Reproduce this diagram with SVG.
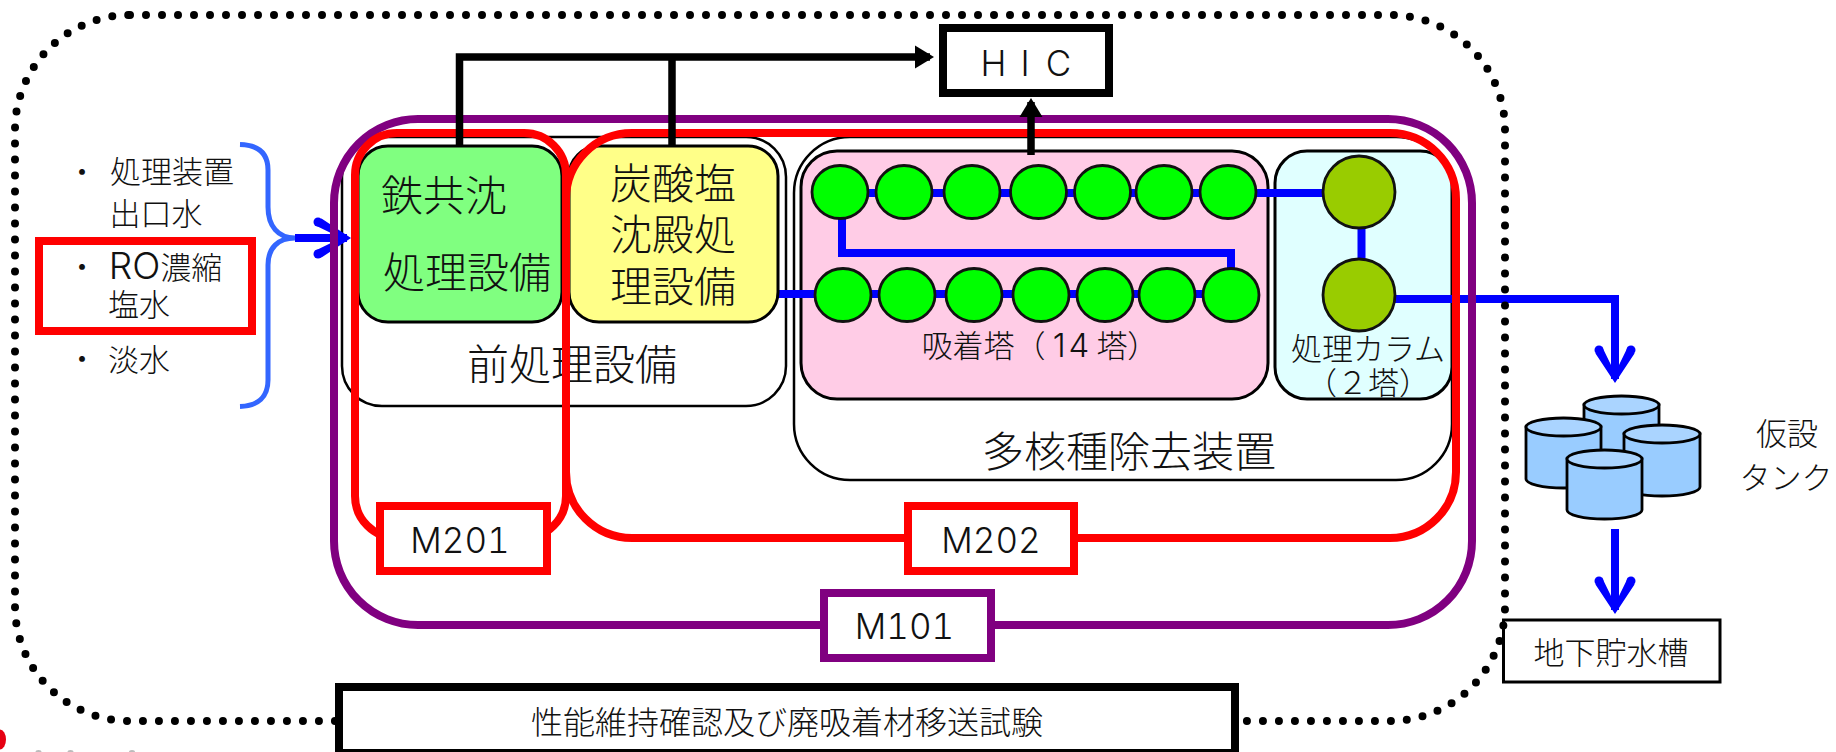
<svg xmlns="http://www.w3.org/2000/svg" width="1836" height="752" viewBox="0 0 1836 752" lang="ja">
<style>
text{font-family:"Noto Sans CJK JP","Noto Sans",sans-serif;fill:#111;text-anchor:middle;font-weight:300}
.f31{font-size:31px}.f41{font-size:42px}
.lat{font-family:Inter,"Liberation Sans",sans-serif;font-size:35px;font-weight:300;font-variant-numeric:tabular-nums}
.thin{fill:none;stroke:#000;stroke-width:2.5}
.box{stroke:#000;stroke-width:3}
.ring-r{fill:none;stroke:#f00;stroke-width:8}
.ring-p{fill:none;stroke:#800080;stroke-width:8}
.tag-r{fill:#fff;stroke:#f00;stroke-width:8}
.tag-p{fill:#fff;stroke:#800080;stroke-width:8}
.tag-k{fill:#fff;stroke:#000;stroke-width:8}
.b{fill:none;stroke:#00f;stroke-width:8}
.k{fill:none;stroke:#000;stroke-width:7.5}
.ads{fill:#0f0;stroke:#111;stroke-width:2.8}
.col{fill:#9c0;stroke:#111;stroke-width:2.8}
.tank{fill:#9cf;stroke:#000;stroke-width:2.8}
.tanktop{fill:#aad4ff;stroke:#000;stroke-width:2.8}
</style>
<defs>
<marker id="ba" markerUnits="userSpaceOnUse" markerWidth="44" markerHeight="48" viewBox="-40 -24 44 48" refX="-4" refY="0" orient="auto" overflow="visible">
<polygon points="0,0 -29.500,-19.500 -36.500,-13 -18,-4 -18,4 -36.500,13 -29.500,19.500" fill="#00f"/>
<circle cx="-33" cy="-16" r="4.500" fill="#00f"/><circle cx="-33" cy="16" r="4.500" fill="#00f"/>
</marker>
<marker id="ka" markerUnits="userSpaceOnUse" markerWidth="24" markerHeight="26" viewBox="-20 -13 24 26" refX="-4" refY="0" orient="auto" overflow="visible">
<polygon points="0,0 -19,-11.500 -19,11.500" fill="#000"/>
</marker>
</defs>

<g id="blob"><ellipse cx="0" cy="739.500" rx="6" ry="10" fill="#e60012"/><ellipse cx="38.500" cy="752" rx="3" ry="2" fill="#bbb"/><ellipse cx="70.500" cy="752" rx="3" ry="2" fill="#bbb"/><ellipse cx="132" cy="752" rx="3" ry="2" fill="#bbb"/></g>

<g id="n-brace"><path fill="none" stroke="#36f" stroke-width="5" d="M240 144.500C258 145 268 153 268 170V207C268 226 278 238 295 238C278 238 268 248 268 265V380C268 397 258 406 240 406.500"/></g>

<g id="n-pretreat"><rect class="thin" x="342" y="137" width="444" height="269" rx="40" style="fill:#fff"/><text class="f41" x="572" y="380">前処理設備</text></g>
<g id="n-alps"><rect class="thin" x="794" y="137" width="658" height="343" rx="56" style="fill:#fff"/><text class="f41" x="1129" y="467">多核種除去装置</text></g>
<g id="n-adsorber"><rect class="box" x="801" y="151" width="467" height="248" rx="36" fill="#ffcce6"/></g>
<g id="n-column"><rect class="box" x="1275" y="151" width="177" height="248" rx="32" fill="#e0ffff"/></g>

<g id="connectors-process">
<path class="b" d="M295 238H347" marker-end="url(#ba)"/>
<path class="b" d="M1395 299H1615V379" marker-end="url(#ba)"/>
<path class="b" d="M1615 529V610" marker-end="url(#ba)"/>
<path class="b" d="M778 294H1231"/>
<path class="b" d="M840 193H1359"/>
<path class="b" d="M842 192V253H1231V295"/>
<path class="b" d="M1361.500 192V295"/>
</g>

<g id="n-iron"><rect class="box" x="358" y="146" width="204" height="176" rx="30" fill="#80ff80"/><text class="f41" x="444" y="211">鉄共沈</text><text class="f41" x="467" y="288">処理設備</text></g>
<g id="n-carbonate"><rect class="box" x="569" y="146" width="209" height="176" rx="30" fill="#ff8"/><text class="f41" x="673" y="199">炭酸塩</text><text class="f41" x="673" y="250">沈殿処</text><text class="f41" x="673" y="302">理設備</text></g>

<g id="n-towers">
<ellipse class="ads" cx="840" cy="192" rx="28" ry="26.500"/><ellipse class="ads" cx="904" cy="192" rx="28" ry="26.500"/><ellipse class="ads" cx="972" cy="192" rx="28" ry="26.500"/><ellipse class="ads" cx="1038.500" cy="192" rx="28" ry="26.500"/><ellipse class="ads" cx="1102.500" cy="192" rx="28" ry="26.500"/><ellipse class="ads" cx="1164" cy="192" rx="28" ry="26.500"/><ellipse class="ads" cx="1228" cy="192" rx="28" ry="26.500"/>
<ellipse class="ads" cx="843" cy="295" rx="28" ry="26.500"/><ellipse class="ads" cx="907" cy="295" rx="28" ry="26.500"/><ellipse class="ads" cx="974" cy="295" rx="28" ry="26.500"/><ellipse class="ads" cx="1041" cy="295" rx="28" ry="26.500"/><ellipse class="ads" cx="1105" cy="295" rx="28" ry="26.500"/><ellipse class="ads" cx="1167" cy="295" rx="28" ry="26.500"/><ellipse class="ads" cx="1231" cy="295" rx="28" ry="26.500"/>
<text class="f31" x="1040" y="357">吸着塔（<tspan dx="7" letter-spacing="3" font-size="33" font-family="Inter,'Liberation Sans',sans-serif">14</tspan><tspan dx="4">塔）</tspan></text>
</g>
<g id="n-columns">
<ellipse class="col" cx="1359" cy="192" rx="36" ry="36"/><ellipse class="col" cx="1359" cy="295" rx="36" ry="36"/>
<text class="f31" x="1368" y="360">処理カラム</text><text class="f31" x="1368" y="394">（２塔）</text>
</g>

<g id="n-m101-ring"><rect class="ring-p" x="334" y="119" width="1138" height="506" rx="84"/></g>
<g id="n-m201-ring"><rect class="ring-r" x="355" y="133" width="211" height="405" rx="42"/></g>
<g id="n-m202-ring"><rect class="ring-r" x="566" y="133" width="890" height="405" rx="66"/></g>

<g id="connectors-hic">
<path class="k" d="M459.500 146V57H930" marker-end="url(#ka)"/>
<path class="k" d="M672 146V57"/>
<path class="k" d="M1031 155V102" marker-end="url(#ka)"/>
</g>

<g id="n-hic"><rect class="tag-k" x="943" y="28" width="166" height="65"/><text class="lat" x="993.500 1025 1058.500" y="76">HIC</text></g>
<g id="n-m201"><rect class="tag-r" x="380" y="506" width="167" height="65"/><text class="lat" x="460" y="553">M201</text></g>
<g id="n-m202"><rect class="tag-r" x="908" y="506" width="166" height="65"/><text class="lat" x="991" y="553">M202</text></g>
<g id="n-m101"><rect class="tag-p" x="824" y="593" width="167" height="65"/><text class="lat" x="904.500" y="639">M101</text></g>

<g id="n-inflow">
<rect class="tag-r" x="39" y="241" width="213" height="90"/>
<text class="f31" x="82" y="183">・</text>
<text class="f31" x="172" y="183">処理装置</text>
<text class="f31" x="156" y="225">出口水</text>
<text class="f31" x="82" y="278">・</text>
<text class="f31" x="165.500" y="279"><tspan font-size="37" font-family="Inter,'Liberation Sans',sans-serif">RO</tspan>濃縮</text>
<text class="f31" x="139" y="316">塩水</text>
<text class="f31" x="82" y="370">・</text>
<text class="f31" x="139" y="371">淡水</text>
</g>

<g id="n-pit"><rect class="thin" x="1503.500" y="620" width="216.500" height="62" style="fill:#fff;stroke-width:3"/><text class="f31" x="1611" y="664">地下貯水槽</text></g>

<g id="n-boundary"><rect x="15" y="15" width="1490" height="706" rx="115" fill="none" stroke="#000" stroke-width="8" stroke-linecap="round" stroke-dasharray="0 16"/></g>

<g id="n-test"><rect class="tag-k" x="339" y="687" width="896" height="66"/><text x="787" y="734" font-size="32">性能維持確認及び廃吸着材移送試験</text></g>

<g id="n-tanks">
<path class="tank" d="M1584 405V470H1659V405Z"/><ellipse class="tanktop" cx="1621.500" cy="405" rx="37.500" ry="9"/>
<path class="tank" d="M1526 427V479A37.500 9 0 0 0 1601 479V427Z"/><ellipse class="tanktop" cx="1563.500" cy="427" rx="37.500" ry="9"/>
<path class="tank" d="M1624 434V487A38 9 0 0 0 1700 487V434Z"/><ellipse class="tanktop" cx="1662" cy="434" rx="38" ry="9"/>
<path class="tank" d="M1567 459V510A37.500 9 0 0 0 1642 510V459Z"/><ellipse class="tanktop" cx="1604.500" cy="459" rx="37.500" ry="9"/>
<text class="f31" x="1787" y="445">仮設</text><text class="f31" x="1786" y="489">タンク</text>
</g>
</svg>
